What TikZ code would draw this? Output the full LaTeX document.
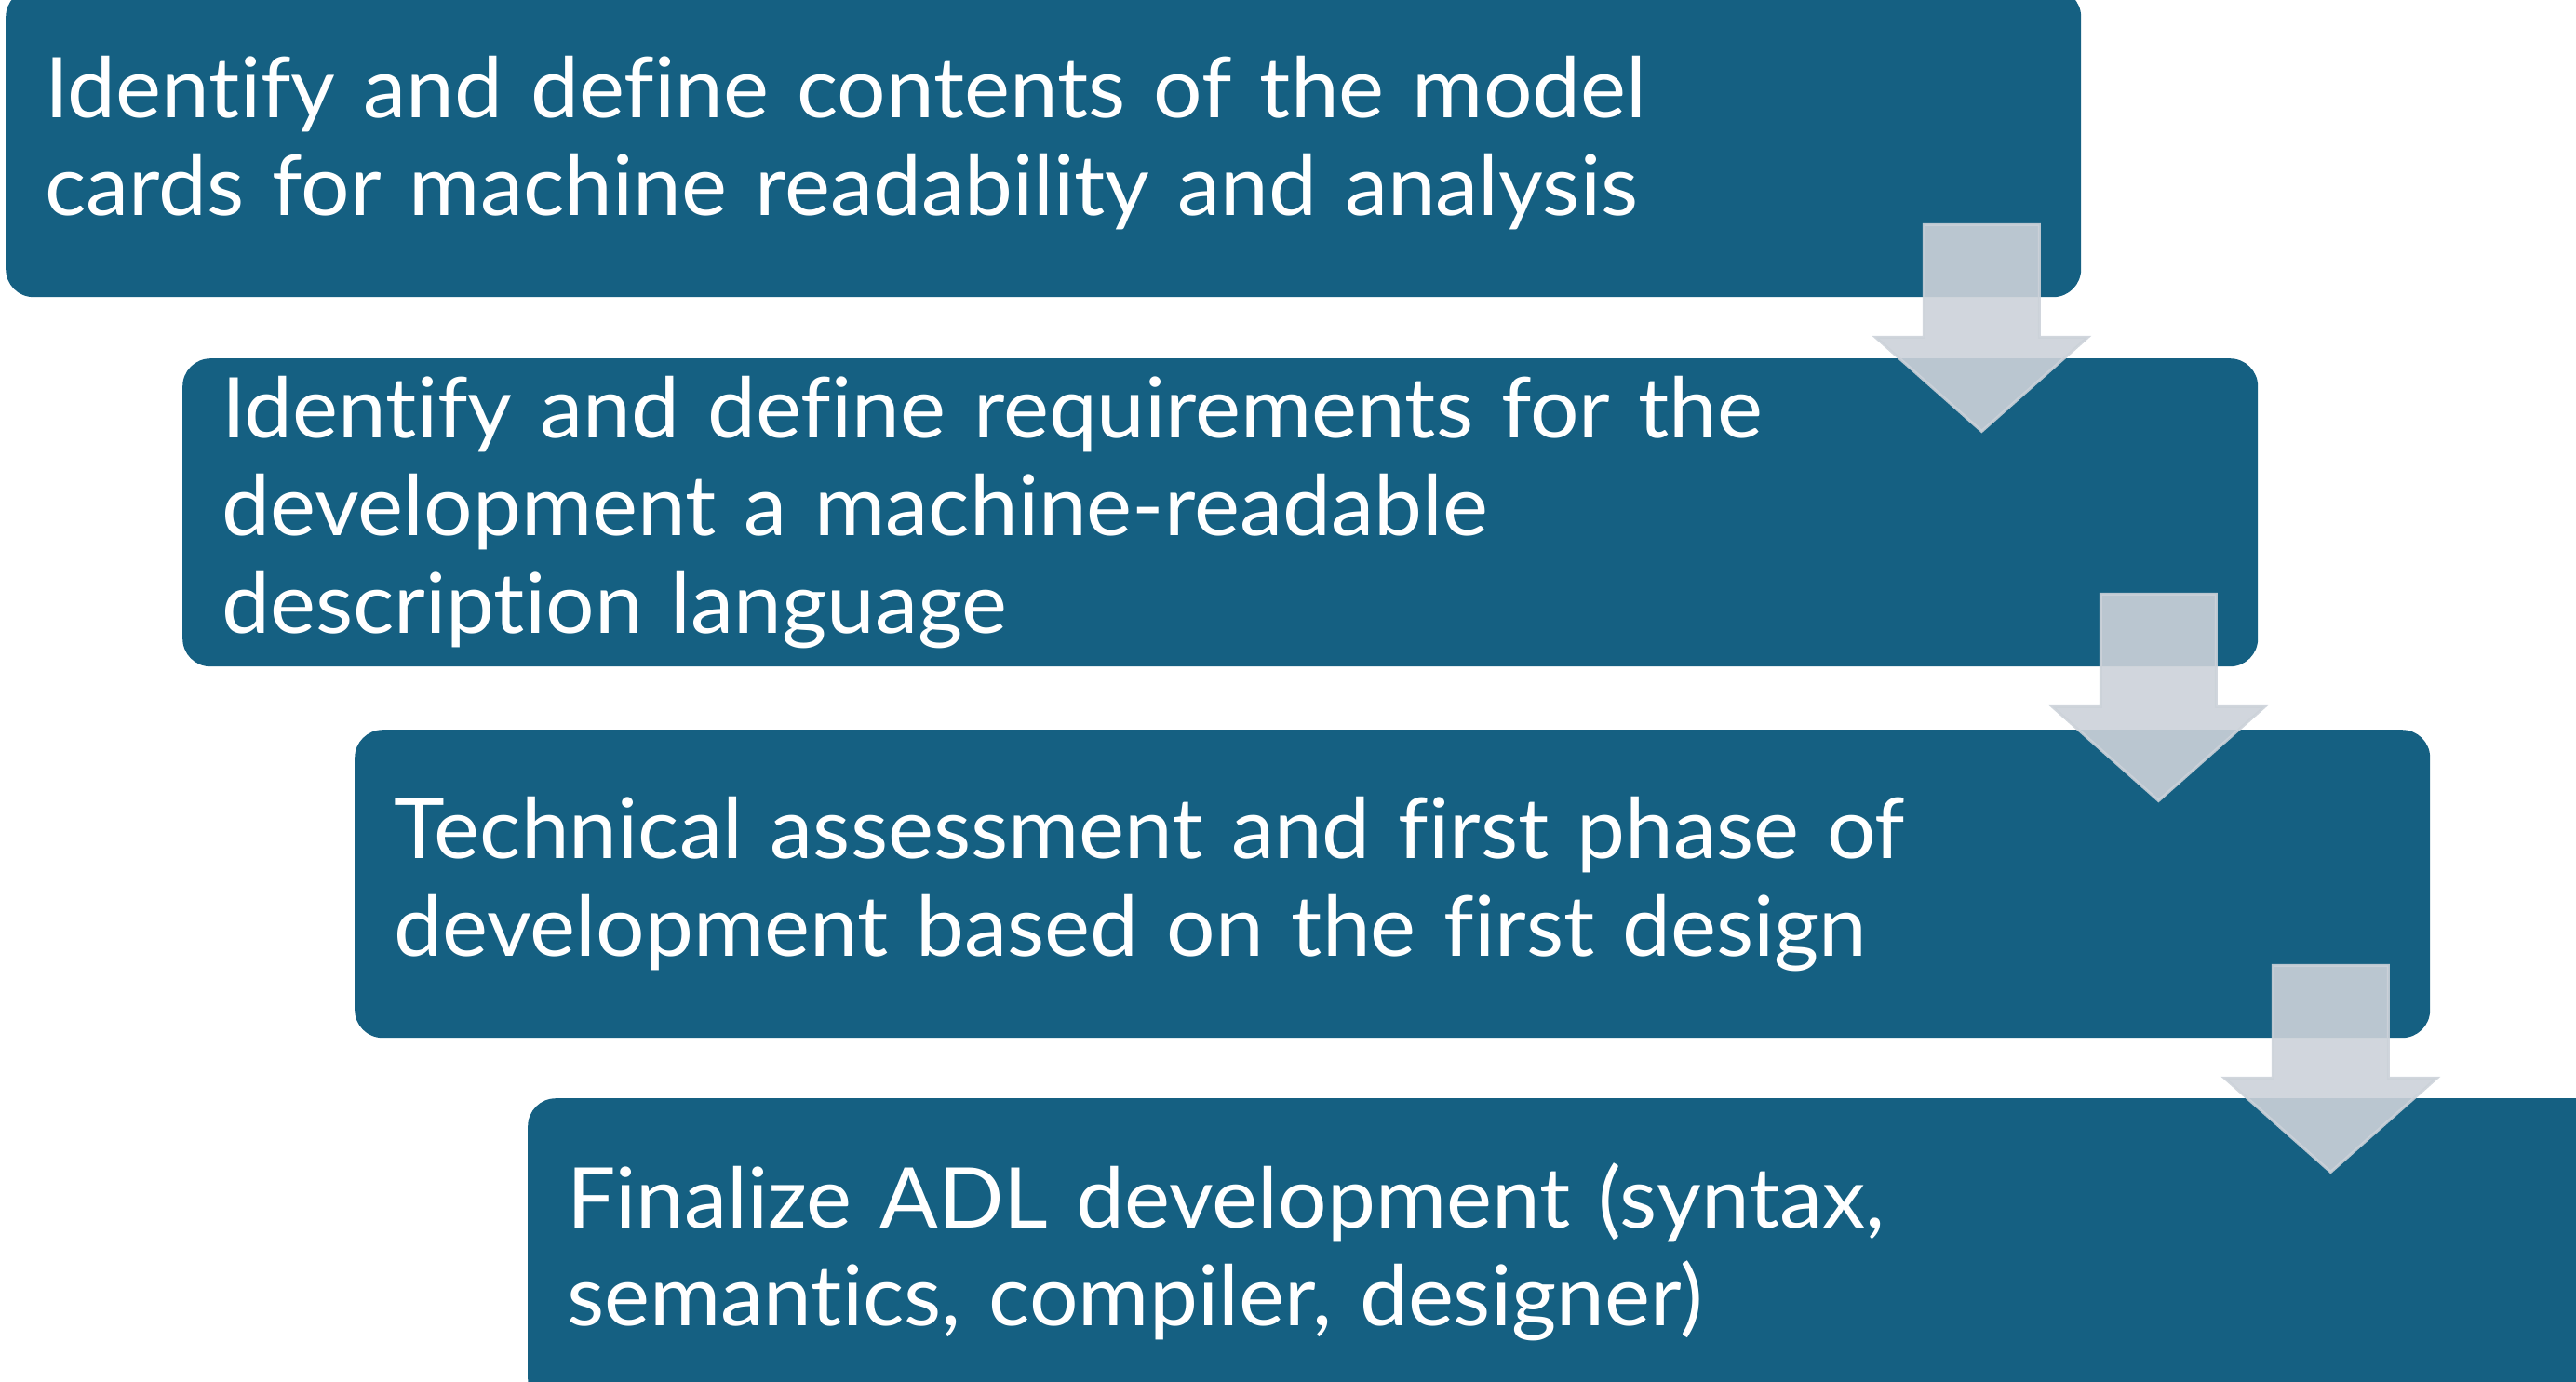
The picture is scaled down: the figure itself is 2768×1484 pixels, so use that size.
\documentclass[tikz,border=0pt]{standalone}
\usepackage{fontspec}
\setmainfont{Lato}[Ligatures=NoCommon, WordSpace=0.85, FakeStretch=1.03]
\usetikzlibrary{positioning}
\definecolor{stepblue}{RGB}{21,96,130}
\definecolor{arrowgrey}{RGB}{204,210,217}

\begin{document}
\begin{tikzpicture}[x=1pt,y=-1pt,
    stepbox/.style={rectangle, rounded corners=30pt, fill=stepblue, text=white, anchor=north west,
        minimum width=2230pt, minimum height=331pt, text width=2146pt, inner xsep=42pt, inner ysep=0pt,
        align=left, font=\fontsize{90}{105}\selectfont},
    downarrow/.style={fill=arrowgrey, draw=arrowgrey, line width=3pt, fill opacity=0.9, draw opacity=0.9}]
    \useasboundingbox (0,0) rectangle (2768,1484);
    % Steps of the process
    \node[stepbox] (box1) at (6,-12) {Identify and define contents of the model\\cards for machine readability and analysis};
    \node[stepbox] (box2) at (196,385) {Identify and define requirements for the\\development a machine-readable\\description language};
    \node[stepbox] (box3) at (381,784) {Technical assessment and first phase of\\development based on the first design};
    \node[stepbox] (box4) at (567,1180) {Finalize ADL development (syntax,\\semantics, compiler, designer)};
    % Arrows from one step down to the next
    \foreach \b in {box1,box2,box3} {
        \begin{scope}[shift={(\b.south east)}]
            \draw[downarrow] (-169,-78) -- (-45,-78) -- (-45,43) -- (7,43) -- (-107,144) -- (-221,43) -- (-169,43) -- cycle;
        \end{scope}
    }
\end{tikzpicture}
\end{document}
